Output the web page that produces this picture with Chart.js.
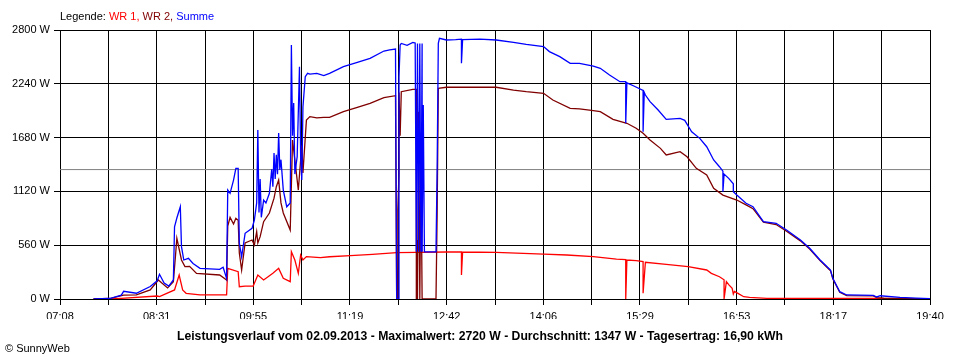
<!DOCTYPE html>
<html>
<head>
<meta charset="utf-8">
<script src="https://cdn.jsdelivr.net/npm/chart.js@4.4.1/dist/chart.umd.min.js"></script>
<style>
  html, body { margin: 0; padding: 0; background: #fff; }
  #wrap { position: relative; width: 960px; height: 360px; overflow: hidden; background: #fff; }
  canvas { position: absolute; left: 0; top: 0; }
  .txt { position: absolute; font-family: 'Liberation Sans', Arial, sans-serif; color: #000; white-space: nowrap; }
</style>
</head>
<body>
<div id="wrap">
  <canvas id="c" width="960" height="360"></canvas>
  <div class="txt" id="legend" style="left:60px; top:10px; font-size:11px; line-height:13px;">Legende: <span style="color:#ff0000">WR 1,</span> <span style="color:#800000">WR 2,</span> <span style="color:#0000ff">Summe</span></div>
  <div class="txt" id="title" style="left:0; width:960px; text-align:center; top:329px; font-size:12.2px; font-weight:bold; line-height:14px;">Leistungsverlauf vom 02.09.2013 - Maximalwert: 2720 W - Durchschnitt: 1347 W - Tagesertrag: 16,90 kWh</div>
  <div class="txt" id="copy" style="left:5px; top:342px; font-size:11px; line-height:13px;">© SunnyWeb</div>
</div>
<script>
// ---- Data ----
const xTickLabels = ['07:08','08:31','09:55','11:19','12:42','14:06','15:29','16:53','18:17','19:40'];
const yTickValues = [0, 560, 1120, 1680, 2240, 2800];
const averageW = 1347;

const sumTimes = ["07:37","07:51","08:01","08:03","08:14","08:26","08:32","08:34","08:38","08:42","08:46","08:47","08:49","08:52","08:53","08:55","08:59","09:03","09:09","09:26","09:29","09:32","09:33","09:35","09:38","09:40","09:42","09:43","09:45","09:48","09:54","09:56","09:58","09:59","10:00","10:01","10:02","10:04","10:06","10:09","10:11","10:12","10:13","10:14","10:15","10:16","10:17","10:18","10:19","10:21","10:24","10:27","10:28","10:29","10:30","10:31","10:33","10:35","10:36","10:37","10:38","10:40","10:42","10:44","10:50","10:56","11:01","11:13","11:25","11:36","11:48","11:53","11:58","11:59","12:01","12:01","12:02","12:03","12:08","12:13","12:15","12:16","12:17","12:18","12:19","12:20","12:21","12:21","12:22","12:23","12:33","12:34","12:35","12:36","12:42","12:50","12:55","12:55","12:56","13:11","13:25","13:40","13:51","14:06","14:11","14:20","14:29","14:37","14:49","14:55","15:03","15:12","15:17","15:17","15:18","15:24","15:32","15:32","15:33","15:34","15:38","15:45","15:52","16:04","16:08","16:14","16:21","16:27","16:33","16:38","16:41","16:41","16:42","16:46","16:50","16:50","16:53","17:01","17:07","17:16","17:27","17:36","17:48","17:56","18:05","18:14","18:16","18:22","18:28","18:51","18:54","18:57","19:14","19:28","19:40"];
const sumValues = [0,5,40,80,60,130,190,257,167,135,198,752,843,960,545,406,423,370,319,309,330,215,1134,1100,1238,1360,1360,583,440,684,735,822,1000,1759,900,1250,850,1030,1000,1100,1350,1169,1520,1250,1500,1300,1728,1343,1450,1134,960,1000,2644,1700,2040,1300,1481,2418,1500,1240,2002,2314,2349,2340,2349,2325,2349,2418,2464,2505,2581,2592,2602,0,0,2314,2644,2660,2640,2670,2665,493,2660,493,2660,493,2660,493,2020,490,490,1377,2660,2713,2696,2700,2705,2453,2700,2705,2696,2672,2650,2627,2575,2523,2453,2453,2425,2401,2332,2262,2262,1829,2250,2217,2170,1741,2150,2123,2054,1967,1870,1880,1860,1741,1672,1585,1447,1377,1330,1117,1300,1256,1200,1117,1082,996,961,805,788,718,614,528,406,302,215,76,42,38,21,34,17,10,3];

const wr2Times = ["07:37","07:51","08:03","08:14","08:26","08:33","08:41","08:46","08:48","08:49","08:53","08:56","09:00","09:06","09:26","09:32","09:33","09:35","09:38","09:40","09:42","09:43","09:45","09:48","09:54","09:56","09:58","09:59","10:01","10:04","10:09","10:13","10:15","10:17","10:19","10:21","10:27","10:29","10:31","10:34","10:37","10:38","10:41","10:44","10:50","10:56","11:01","11:13","11:25","11:36","11:48","11:58","11:59","12:00","12:00","12:01","12:01","12:02","12:03","12:13","12:16","12:16","12:17","12:17","12:18","12:19","12:20","12:21","12:33","12:34","12:35","12:42","13:11","13:25","13:40","13:51","14:06","14:14","14:29","14:37","14:49","14:55","15:06","15:18","15:26","15:32","15:38","15:47","15:52","16:04","16:10","16:18","16:27","16:33","16:41","16:53","17:01","17:07","17:16","17:27","17:36","17:48","17:56","18:05","18:14","18:16","18:22","18:28","18:51","18:54","19:00","19:14","19:40"];
const wr2Values = [0,5,40,42,94,198,115,180,476,632,406,337,340,267,250,198,760,850,780,840,820,479,302,583,614,562,700,583,649,805,895,1050,1169,1238,1000,895,718,1655,1447,1134,1600,1311,1863,1898,1885,1891,1891,1950,1995,2037,2095,2116,0,0,926,1300,2150,1700,2158,2183,2183,0,614,0,1950,0,1468,0,0,895,2193,2204,2204,2204,2175,2158,2141,2071,1985,1980,1960,1950,1870,1829,1777,1725,1655,1568,1499,1533,1480,1360,1291,1152,1082,1030,980,940,800,775,705,605,520,400,295,210,70,35,32,15,8,5,0];

const wr1Times = ["07:37","07:51","08:01","08:32","08:34","08:47","08:51","08:54","08:57","09:09","09:32","09:33","09:42","09:43","09:48","09:55","09:59","10:04","10:12","10:17","10:21","10:27","10:28","10:31","10:34","10:36","10:38","10:41","10:53","11:01","11:19","11:38","11:59","12:16","12:42","12:55","12:55","12:56","13:25","14:06","14:26","14:49","15:09","15:17","15:17","15:18","15:26","15:32","15:32","15:34","15:52","16:11","16:27","16:31","16:38","16:42","16:42","16:44","16:46","16:49","16:50","16:51","16:54","16:59","17:04","17:19","18:50","19:40"];
const wr1Values = [0,0,7,31,25,94,250,94,59,42,42,319,284,128,135,135,250,198,267,319,215,180,493,406,267,458,406,441,430,440,451,465,482,486,489,489,250,489,486,468,458,441,416,410,0,406,399,390,60,382,361,337,302,267,232,200,0,180,150,111,52,80,59,24,17,7,5,0];

// ---- helpers ----
const toMin = s => { const p = s.split(':'); return (+p[0]) * 60 + (+p[1]); };
const pts = (times, vals) => times.map((t, i) => ({ x: toMin(t), y: vals[i] }));

const xMin = toMin(xTickLabels[0]);
const xMax = toMin(xTickLabels[xTickLabels.length - 1]);
const nGrid = (xTickLabels.length - 1) * 2;
const xGridValues = [];
for (let i = 0; i <= nGrid; i++) xGridValues.push(xMin + (xMax - xMin) * i / nGrid);

const FONT = "'Liberation Sans', Arial, sans-serif";
Chart.defaults.font.family = FONT;
Chart.defaults.font.size = 11;
Chart.defaults.color = '#000';

new Chart(document.getElementById('c'), {
  type: 'line',
  data: {
    datasets: [
      { label: 'Summe', data: pts(sumTimes, sumValues), borderColor: '#0000ff', borderWidth: 1.3, pointRadius: 0, tension: 0, fill: false },
      { label: 'WR 2', data: pts(wr2Times, wr2Values), borderColor: '#800000', borderWidth: 1.3, pointRadius: 0, tension: 0, fill: false },
      { label: 'WR 1', data: pts(wr1Times, wr1Values), borderColor: '#ff0000', borderWidth: 1.3, pointRadius: 0, tension: 0, fill: false },
      { label: 'Durchschnitt', data: [{ x: xMin, y: averageW }, { x: xMax, y: averageW }], borderColor: '#808080', borderWidth: 1, pointRadius: 0, fill: false }
    ]
  },
  options: {
    responsive: false,
    animation: false,
    events: [],
    layout: { padding: { left: 0, right: 30, top: 30, bottom: 41 } },
    plugins: { legend: { display: false }, tooltip: { enabled: false }, title: { display: false } },
    scales: {
      x: {
        type: 'linear',
        min: xMin,
        max: xMax,
        afterBuildTicks: s => { s.ticks = xGridValues.map(v => ({ value: v })); },
        afterFit: s => { s.height = 20; },
        ticks: {
          autoSkip: false, maxRotation: 0, minRotation: 0, padding: 5, color: '#000',
          font: { size: 11, family: FONT },
          callback: (v, i) => (i % 2 === 0 ? xTickLabels[i / 2] : '')
        },
        grid: { color: '#000', lineWidth: 1, tickLength: 6, tickColor: '#000', drawOnChartArea: true },
        border: { color: '#000', width: 1 }
      },
      y: {
        min: yTickValues[0],
        max: yTickValues[yTickValues.length - 1],
        afterBuildTicks: s => { s.ticks = yTickValues.map(v => ({ value: v })); },
        afterFit: s => { s.width = 60; },
        ticks: { padding: 4, color: '#000', font: { size: 11, family: FONT }, callback: v => v + ' W' },
        grid: { color: '#000', lineWidth: 1, tickLength: 6, tickColor: '#000' },
        border: { color: '#000', width: 1 }
      }
    }
  }
});
</script>
</body>
</html>
